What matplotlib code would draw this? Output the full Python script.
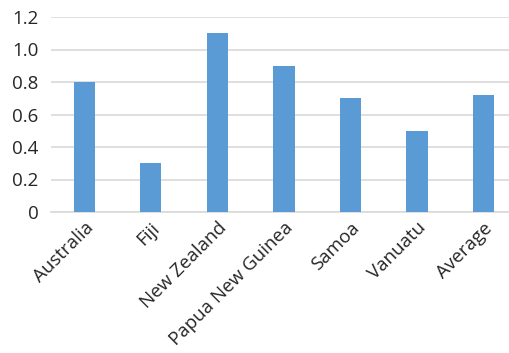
import numpy as np
import matplotlib.pyplot as plt

plt.rcParams['font.family'] = ['Open Sans', 'DejaVu Sans']

countries = ['Australia', 'Fiji', 'New Zealand', 'Papua New Guinea', 'Samoa', 'Vanuatu', 'Average']
values = [0.8, 0.3, 1.1, 0.9, 0.7, 0.5, 0.717]

fig = plt.figure(figsize=(5.09, 3.53), dpi=100)
ax = fig.add_axes([51 / 509, 141 / 353, 465.75 / 509, 195 / 353])

x = np.arange(len(countries))
ax.bar(x, values, width=0.32, color='#5B9BD5', zorder=3)

ax.set_xlim(-0.5, len(countries) - 0.5)
ax.set_ylim(0, 1.2)
ax.set_yticks(np.arange(0, 1.21, 0.2))
ax.set_yticklabels(['0', '0.2', '0.4', '0.6', '0.8', '1.0', '1.2'])
ax.yaxis.grid(True, color='#D9D9D9', linewidth=1.2, zorder=0)

ax.set_xticks(x)
ax.set_xticklabels(countries, rotation=45, ha='right', rotation_mode='anchor')

for s in ['top', 'right', 'left']:
    ax.spines[s].set_visible(False)
ax.spines['bottom'].set_color('#D9D9D9')
ax.spines['bottom'].set_linewidth(1.2)
ax.tick_params(axis='both', length=0, labelsize=13.5, colors='#262626')
ax.tick_params(axis='y', pad=9)
ax.tick_params(axis='x', pad=5)

plt.savefig('out.png', dpi=100)
